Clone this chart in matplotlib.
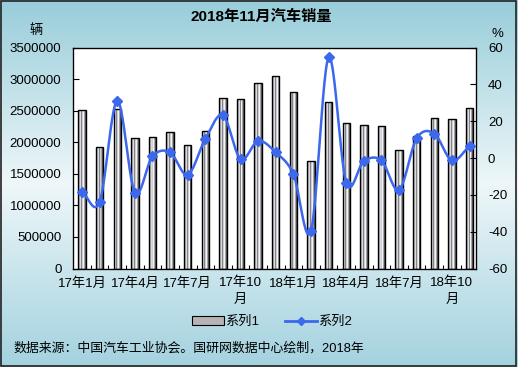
import numpy as np
import matplotlib
matplotlib.use('Agg')
import matplotlib.pyplot as plt
from matplotlib.patches import Rectangle
from matplotlib.lines import Line2D
from matplotlib.colors import LinearSegmentedColormap

plt.rcParams['font.family'] = ['Liberation Sans', 'Noto Sans CJK SC', 'DejaVu Sans']

# ---------------- data ----------------
months = ['17年1月', '17年2月', '17年3月', '17年4月', '17年5月', '17年6月',
          '17年7月', '17年8月', '17年9月', '17年10月', '17年11月', '17年12月',
          '18年1月', '18年2月', '18年3月', '18年4月', '18年5月', '18年6月',
          '18年7月', '18年8月', '18年9月', '18年10月', '18年11月']
sales = [2508000, 1922000, 2529000, 2064000, 2080000, 2159000,
         1953000, 2181000, 2698000, 2682000, 2935000, 3052000,
         2798000, 1700000, 2640000, 2302000, 2270000, 2254000,
         1874000, 2096000, 2381000, 2365000, 2540000]
growth = [-18.2, -23.8, 31.1, -18.7, 0.9, 3.1,
          -9.1, 10.4, 23.3, -0.5, 9.3, 3.1,
          -8.7, -39.5, 54.7, -13.3, -1.6, -1.3,
          -17.3, 10.7, 13.3, -1.3, 6.5]
tick_positions = [0, 3, 6, 9, 12, 15, 18, 21]
tick_labels = ['17年1月', '17年4月', '17年7月', '17年10\n月',
               '18年1月', '18年4月', '18年7月', '18年10\n月']
left_ticks = [0, 500000, 1000000, 1500000, 2000000, 2500000, 3000000, 3500000]
right_ticks = [-60, -40, -20, 0, 20, 40, 60]

W, H = 518, 367
fig = plt.figure(figsize=(W / 100, H / 100), dpi=100)

# background gradient
bg = fig.add_axes([0, 0, 1, 1])
bg.set_axis_off()
bg_cmap = LinearSegmentedColormap.from_list(
    'bg', [(0.0, '#a3d2df'), (0.5, '#eef7f9'), (1.0, '#98cdda')])
grad = np.linspace(0, 1, 256).reshape(-1, 1)
bg.imshow(grad, cmap=bg_cmap, aspect='auto', extent=[0, 1, 0, 1])
bg.set_xlim(0, 1)
bg.set_ylim(1, 0)
bg.add_patch(Rectangle((0.002, 0.003), 0.995, 0.993, fill=False,
                       edgecolor='#222222', lw=1.2, transform=bg.transAxes))

L, R, T, B = 72.5, 475.5, 47.7, 268.5
ax = fig.add_axes([L / W, 1 - B / H, (R - L) / W, (B - T) / H])
ax.set_facecolor('white')

x = np.arange(len(sales))
bw = 0.42
strip_colors = ['#5e5e62', '#bdbdc1', '#dadade', '#86868a', '#d0d0d4', '#f3f3f5', '#a6a6aa', '#5e5e62']
ns = len(strip_colors)
for xi, v in zip(x, sales):
    x0 = xi - bw / 2
    for k, c in enumerate(strip_colors):
        ax.add_patch(Rectangle((x0 + k * bw / ns, 0), bw / ns, v, facecolor=c,
                               edgecolor='none', lw=0, zorder=2))
    ax.add_patch(Rectangle((x0, 0), bw, v, fill=False,
                           edgecolor='black', lw=1.0, zorder=3))

ax.set_xlim(-0.54, 22.34)
ax.set_ylim(0, 3500000)
ax.set_yticks(left_ticks)
ax.set_yticklabels([str(t) for t in left_ticks], fontsize=9.5)
ax.tick_params(axis='y', direction='in', length=4, width=0.8, pad=8)
ax.set_xticks(tick_positions)
ax.set_xticklabels(tick_labels, fontsize=9.5, linespacing=1.45)
ax.tick_params(axis='x', length=0, pad=6)
ax.set_xticks(np.arange(-0.5, 22.5, 1.0)[1:], minor=True)
ax.tick_params(axis='x', which='minor', direction='in', length=3, width=0.8)
for s in ax.spines.values():
    s.set_linewidth(0.9)
    s.set_color('black')

ax2 = ax.twinx()
ax2.set_ylim(-60, 60)
ax2.set_yticks(right_ticks)
ax2.set_yticklabels([str(t) for t in right_ticks], fontsize=9.5)
ax2.tick_params(axis='y', direction='in', length=4, width=0.8, pad=9)
ax2.patch.set_visible(False)


def catmull(xs, ys, n=24):
    xs = np.asarray(xs, float)
    ys = np.asarray(ys, float)
    px = np.concatenate([[2 * xs[0] - xs[1]], xs, [2 * xs[-1] - xs[-2]]])
    py = np.concatenate([[2 * ys[0] - ys[1]], ys, [2 * ys[-1] - ys[-2]]])
    ox, oy = [], []
    t = np.linspace(0, 1, n, endpoint=False)
    for i in range(1, len(px) - 2):
        for arr, out in ((px, ox), (py, oy)):
            p0, p1, p2, p3 = arr[i - 1], arr[i], arr[i + 1], arr[i + 2]
            out.extend(0.5 * ((2 * p1) + (-p0 + p2) * t +
                              (2 * p0 - 5 * p1 + 4 * p2 - p3) * t ** 2 +
                              (-p0 + 3 * p1 - 3 * p2 + p3) * t ** 3))
    ox.append(xs[-1])
    oy.append(ys[-1])
    return np.array(ox), np.array(oy)


line_color = '#3b68ec'
sx, sy = catmull(x, growth)
ax2.plot(sx, sy, color=line_color, lw=1.8, zorder=4, solid_capstyle='round')
ax2.plot(x, growth, ls='none', marker='D', ms=5, color=line_color, zorder=5)

# texts
fig.text(261 / W, 1 - 17 / H, '2018年11月汽车销量', ha='center', va='center',
         fontsize=11, fontweight='bold')
fig.text(36 / W, 1 - 31 / H, '辆', ha='center', va='center', fontsize=9.5)
fig.text(497 / W, 1 - 34 / H, '%', ha='center', va='center', fontsize=9.5)
fig.text(13 / W, 1 - 348 / H, '数据来源：中国汽车工业协会。国研网数据中心绘制，2018年',
         ha='left', va='center', fontsize=9.3)

handles = [Rectangle((0, 0), 1, 1, facecolor='#b4b4b8', edgecolor='black', lw=0.8),
           Line2D([0], [0], color=line_color, lw=2, marker='D', ms=4)]
fig.legend(handles, ['系列1', '系列2'], loc='center', bbox_to_anchor=(272 / W, 1 - 322 / H),
           ncol=2, frameon=False, fontsize=9.5, handlelength=2.4, handleheight=0.6,
           columnspacing=2.0, handletextpad=0.1)

fig.savefig('out.png', dpi=100)
